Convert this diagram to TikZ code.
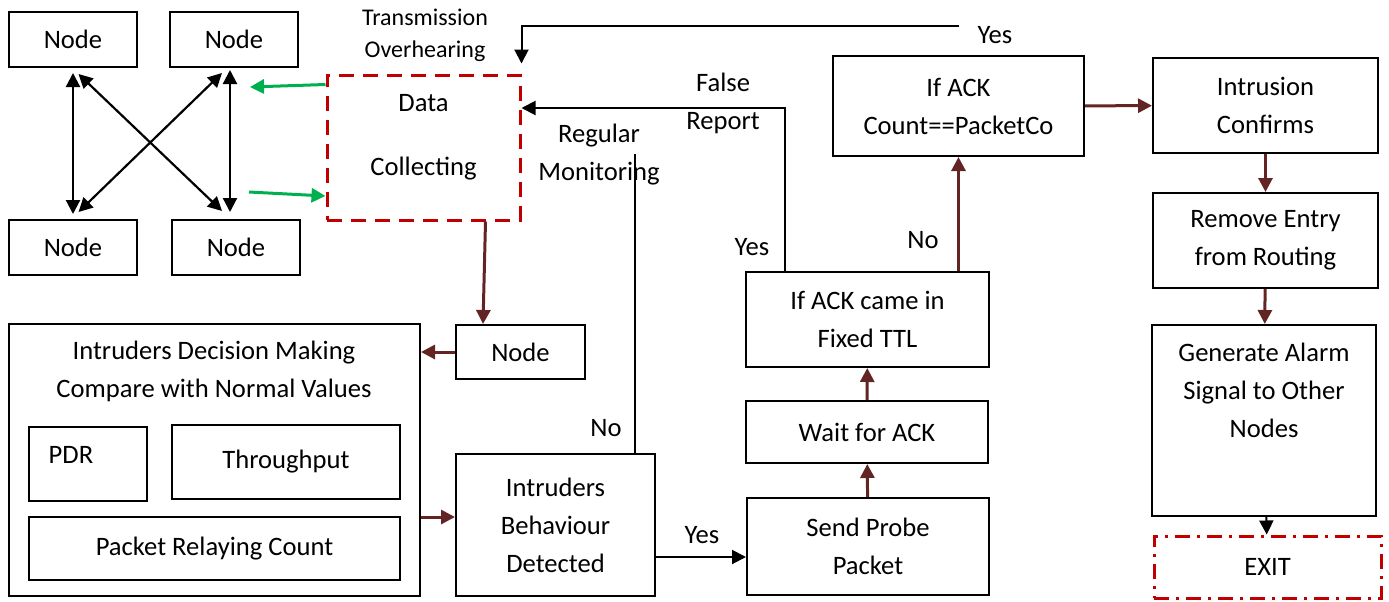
\documentclass[tikz,border=0pt]{standalone}
\usepackage{fontspec}
\setmainfont{Carlito}
\usepackage{xcolor}
\usetikzlibrary{positioning,arrows.meta,calc}
\definecolor{flowbrown}{RGB}{99,37,35}
\definecolor{flowred}{RGB}{192,0,0}
\definecolor{flowgreen}{RGB}{0,176,80}

\begin{document}
\begin{tikzpicture}[x=0.5pt, y=-0.5pt,
  box/.style 2 args={draw, line width=1pt, align=center, inner sep=0pt, minimum width=0.5pt*#1, minimum height=0.5pt*#2, font=\fontsize{13.3}{19}\selectfont},
  txt/.style={align=center, inner sep=0pt, font=\fontsize{13.3}{19}\selectfont},
  dashbox/.style 2 args={box={#1}{#2}, draw=flowred, line width=1.5pt, dash pattern=on 7.5pt off 4.5pt},
  dotbox/.style 2 args={box={#1}{#2}, draw=flowred, line width=1.5pt, dash pattern=on 7.5pt off 3.5pt on 1.5pt off 3.5pt},
  arrow/.style={-{Triangle[length=7pt,width=7pt]}, line width=1pt},
  dblarrow/.style={{Triangle[length=7pt,width=7pt]}-{Triangle[length=7pt,width=7pt]}, line width=1.1pt},
  brarrow/.style={-{Triangle[length=7pt,width=7pt]}, line width=1.5pt, flowbrown},
  grarrow/.style={-{Triangle[length=7pt,width=7pt]}, line width=1.5pt, flowgreen}]
  \useasboundingbox (0,0) rectangle (1389,601);
  % network of nodes
  \node[box={128}{55}] (n1) at (73,39.5) {Node};
  \node[box={128}{55}] (n2) at (234,39.5) {Node};
  \node[box={128}{55}] (n3) at (73,247.5) {Node};
  \node[box={128}{55}] (n4) at (236,247.5) {Node};
  \draw[dblarrow, shorten <=2.5pt, shorten >=2.5pt] (n1) -- (n3);
  \draw[dblarrow] ($(n2.south)+(-4,2)$) -- ($(n4.north)+(-6,-7)$);
  \draw[dblarrow] ($(n1.south)+(5.5,6)$) -- ($(n4.north)+(-14,-8)$);
  \draw[dblarrow] ($(n2.south)+(-12,5)$) -- ($(n3.north)+(5.5,-7)$);
  % data collecting
  \node[dashbox={193}{145}] (dc) at (423.5,147.5) {};
  \node[txt] (dctxt) at (423.5,137) {Data\\[13pt]Collecting};
  \node[txt, font=\fontsize{12}{16}\selectfont] (tro) at (425,35) {Transmission\\Overhearing};
  \draw[grarrow] ($(dc.north west)+(0,11)$) -- ($(n2.south east)+(-49,19)$);
  \draw[grarrow] ($(n4.north east)+(-52,-27)$) -- ($(dc.west)+(0,48.5)$);
  % decision making
  \node[box={129}{54}] (nd) at (520.5,352) {Node};
  \node[box={411}{272}] (idm) at (214.5,460) {};
  \node[txt] (idmtxt) at (214,371.5) {Intruders Decision Making\\Compare with Normal Values};
  \node[box={118}{74}] (pdr) at (88,464) {};
  \node[txt] (pdrtxt) at (71,455) {PDR};
  \node[box={228}{74}] (thr) at (286,462) {Throughput};
  \node[box={371}{63}] (prc) at (214.5,548.5) {Packet Relaying Count};
  \node[box={199}{142}] (ib) at (555.5,525) {Intruders\\Behaviour\\Detected};
  % probing
  \node[box={242}{97}] (sp) at (868,546.5) {Send Probe\\Packet};
  \node[box={242}{62}] (wa) at (867,432) {Wait for ACK};
  \node[box={243}{95}] (ttl) at (867.5,319.5) {If ACK came in\\Fixed TTL};
  \node[box={251}{100}] (ifc) at (958.5,106) {If ACK\\Count==PacketCo};
  % response
  \node[box={225}{95}] (ic) at (1265.5,105.5) {Intrusion\\Confirms};
  \node[box={225}{95}] (re) at (1265.5,240.5) {Remove Entry\\from Routing};
  \node[box={224}{191}] (ga) at (1264,420.5) {};
  \node[txt] (gatxt) at (1264,390) {Generate Alarm\\Signal to Other\\Nodes};
  \node[dotbox={227}{62}] (ex) at (1267.5,567) {EXIT};
  % labels
  \node[txt] (yes1) at (995,35) {Yes};
  \node[txt] (fr) at (723,103.5) {False\\Report};
  \node[txt] (rm) at (599,155) {Regular\\Monitoring};
  \node[txt] (no1) at (606,428) {No};
  \node[txt] (yes2) at (752,247) {Yes};
  \node[txt] (no2) at (923,240) {No};
  \node[txt] (yes3) at (702,535) {Yes};
  % connectors
  \draw[brarrow] ($(dc.south east)+(-36,0)$) -- ($(nd.north west)+(28,0)$);
  \draw[brarrow] (nd.west) -- (nd.west -| idm.east);
  \draw[brarrow] ($(idm.east)+(0,57)$) -- ($(ib.west)+(0,-8)$);
  \draw[arrow] ($(ib.east)+(0,32)$) -- ($(sp.west)+(0,10.5)$);
  \draw[line width=1pt] ($(ib.north)+(79.5,0)$) -- ++(0,-299);
  \foreach \a/\b in {sp/wa, wa/ttl, ifc/ic, ic/re, re/ga} \draw[brarrow] (\a) -- (\b);
  \draw[brarrow] (ifc.south |- ttl.north) -- (ifc.south);
  \draw[arrow] (ga) -- (ex);
  \draw[arrow] ($(ttl.north)+(-83,0)$) |- ($(dc.east)+(0,-39.5)$);
  \draw[arrow, shorten >=5pt] ($(ifc.north)+(0,-29)$) -| (dc.north east);
\end{tikzpicture}
\end{document}
